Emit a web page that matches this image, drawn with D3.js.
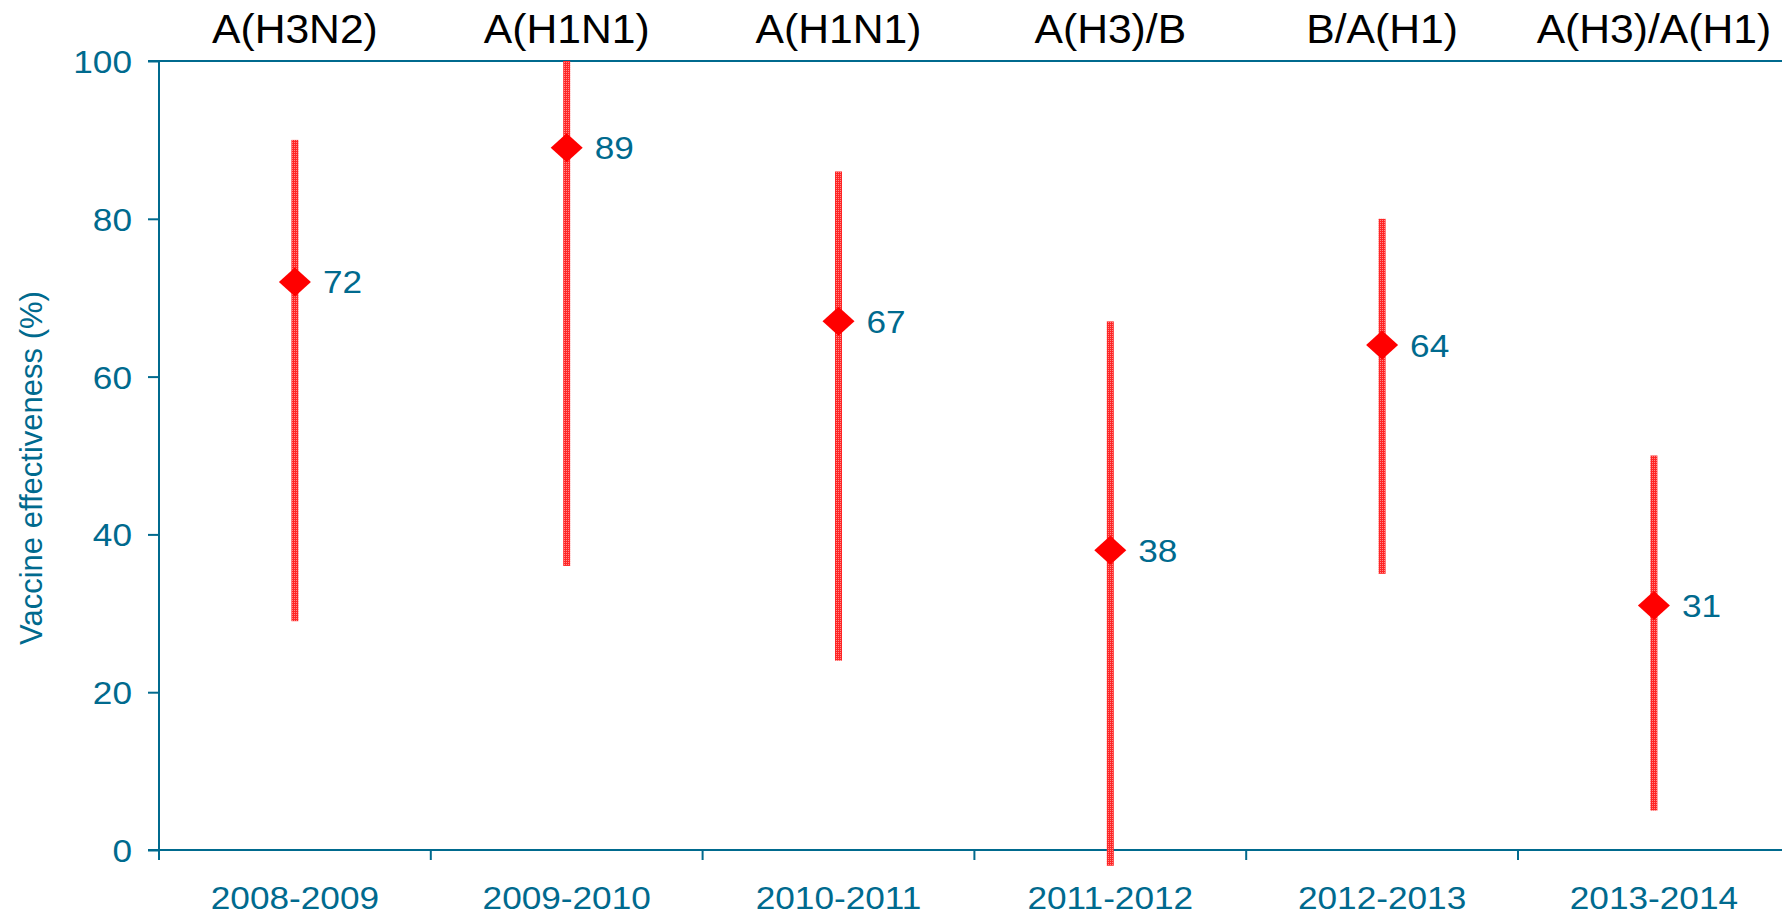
<!DOCTYPE html>
<html>
<head>
<meta charset="utf-8">
<script src="https://cdn.jsdelivr.net/npm/d3@7/dist/d3.min.js"></script>
<style>
  html, body { margin: 0; padding: 0; background: #fff; overflow: hidden; }
  text { font-family: Arial, "Liberation Sans", sans-serif; }
</style>
</head>
<body>
<div id="chart"></div>
<script>
// data
var seasons = ['2008-2009', '2009-2010', '2010-2011', '2011-2012', '2012-2013', '2013-2014'];
var strains = ['A(H3N2)', 'A(H1N1)', 'A(H1N1)', 'A(H3)/B', 'B/A(H1)', 'A(H3)/A(H1)'];
var ve      = [72, 89, 67, 38, 64, 31];
var ciLow   = [29, 36, 24, -2, 35, 5];
var ciHigh  = [90, 100, 86, 67, 80, 50];
var yTicks  = [0, 20, 40, 60, 80, 100];

var W = 1782, H = 915;
var teal = '#006a8e';
var sx = 1.1; // the original lettering is a bit wider than Arial

var svg = d3.select('#chart').append('svg')
  .attr('width', W)
  .attr('height', H);

// dotted red fill for the CI bars
var pat = svg.append('defs').append('pattern')
  .attr('id', 'dots')
  .attr('width', 2).attr('height', 2)
  .attr('patternUnits', 'userSpaceOnUse');
pat.append('rect').attr('width', 2).attr('height', 2).attr('fill', '#ff2626');
pat.append('rect').attr('width', 1).attr('height', 1).attr('fill', '#ff8a8a');

var x = d3.scaleBand()
  .domain(seasons)
  .range([159, 159 + 6 * 271.8]);

var y = d3.scaleLinear()
  .domain([0, 100])
  .range([850, 61]);

function cx(d) { return x(d) + x.bandwidth() / 2; }

// y axis
var yAxis = svg.append('g')
  .attr('transform', 'translate(159,0)')
  .call(d3.axisLeft(y).tickValues(yTicks).tickSize(11).tickPadding(16));
yAxis.select('.domain').remove();
yAxis.selectAll('.tick line').attr('stroke', teal).attr('stroke-width', 2);
yAxis.selectAll('.tick text')
  .attr('fill', teal)
  .attr('x', -27 / sx)
  .attr('transform', 'scale(' + sx + ',1)')
  .style('font-size', '32px')
  .attr('dy', '0.36em');

// frame lines
svg.append('line')
  .attr('x1', 159).attr('x2', 159)
  .attr('y1', y(100)).attr('y2', y(0) + 10)
  .attr('stroke', teal).attr('stroke-width', 2);
svg.append('line')
  .attr('x1', 148).attr('x2', x.range()[1])
  .attr('y1', y(0)).attr('y2', y(0))
  .attr('stroke', teal).attr('stroke-width', 2);
svg.append('line')
  .attr('x1', 148).attr('x2', x.range()[1])
  .attr('y1', y(100)).attr('y2', y(100))
  .attr('stroke', teal).attr('stroke-width', 2);

// category boundary ticks
var bounds = seasons.map(function(d) { return x(d); }).concat([x.range()[1]]);
svg.selectAll('.btick')
  .data(bounds)
  .enter()
  .append('line')
  .attr('class', 'btick')
  .attr('x1', function(d) { return d; })
  .attr('x2', function(d) { return d; })
  .attr('y1', y(0)).attr('y2', y(0) + 10)
  .attr('stroke', teal).attr('stroke-width', 2);

// season labels
svg.selectAll('.season')
  .data(seasons)
  .enter()
  .append('text')
  .attr('class', 'season')
  .attr('transform', function(d) { return 'translate(' + cx(d) + ',909) scale(' + sx + ',1)'; })
  .attr('text-anchor', 'middle')
  .attr('fill', teal)
  .style('font-size', '32px')
  .text(function(d) { return d; });

// strain labels on top
svg.selectAll('.strain')
  .data(strains)
  .enter()
  .append('text')
  .attr('class', 'strain')
  .attr('transform', function(d, i) { return 'translate(' + cx(seasons[i]) + ',43) scale(1.04,1)'; })
  .attr('text-anchor', 'middle')
  .attr('fill', '#000')
  .style('font-size', '41px')
  .text(function(d) { return d; });

// y axis title
svg.append('text')
  .attr('transform', 'translate(42,468) rotate(-90)')
  .attr('text-anchor', 'middle')
  .attr('fill', teal)
  .style('font-size', '31px')
  .text('Vaccine effectiveness (%)');

// CI bars
svg.selectAll('.ci')
  .data(seasons)
  .enter()
  .append('rect')
  .attr('class', 'ci')
  .attr('x', function(d) { return cx(d) - 3.5; })
  .attr('width', 7)
  .attr('y', function(d, i) { return y(ciHigh[i]); })
  .attr('height', function(d, i) { return y(ciLow[i]) - y(ciHigh[i]); })
  .attr('fill', 'url(#dots)');

// diamonds
svg.selectAll('.pt')
  .data(seasons)
  .enter()
  .append('path')
  .attr('class', 'pt')
  .attr('transform', function(d, i) { return 'translate(' + cx(d) + ',' + y(ve[i]) + ')'; })
  .attr('d', 'M0,-14.5L16,0L0,14.5L-16,0Z')
  .attr('fill', '#ff0000');

// value labels
svg.selectAll('.val')
  .data(seasons)
  .enter()
  .append('text')
  .attr('class', 'val')
  .attr('transform', function(d, i) {
    return 'translate(' + (cx(d) + 28) + ',' + y(ve[i]) + ') scale(' + sx + ',1)';
  })
  .attr('dy', '0.36em')
  .attr('fill', teal)
  .style('font-size', '32px')
  .text(function(d, i) { return ve[i]; });
</script>
</body>
</html>
